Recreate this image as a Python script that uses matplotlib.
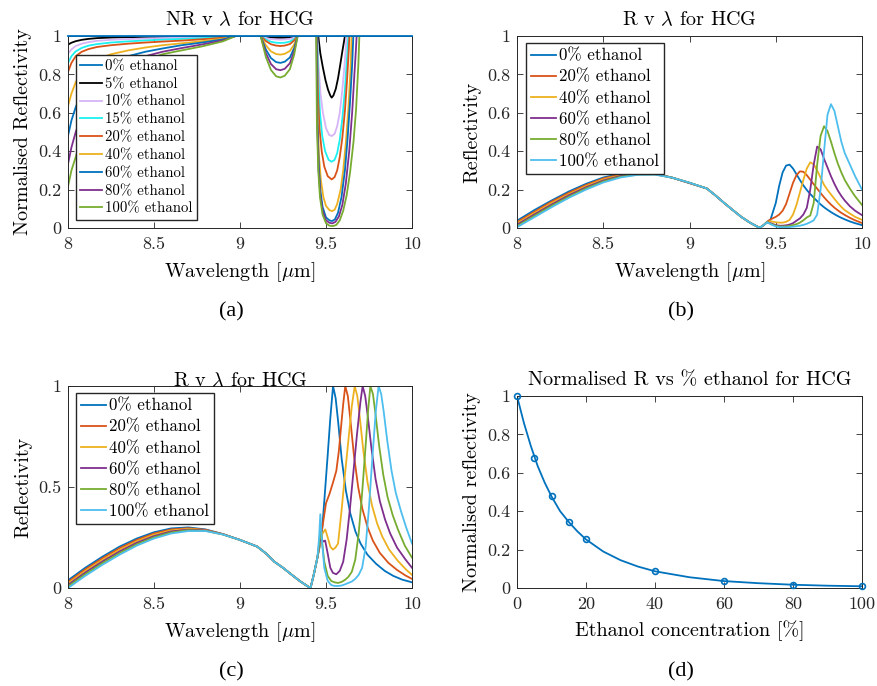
import matplotlib
matplotlib.use('Agg')
import matplotlib.pyplot as plt

plt.rcParams['font.family'] = 'cmr10'
plt.rcParams['mathtext.fontset'] = 'cm'
plt.rcParams['axes.formatter.use_mathtext'] = True
plt.rcParams['axes.unicode_minus'] = False

# matlab default colours
BLUE = '#0072BD'
RED = '#D95319'
YELLOW = '#EDB120'
PURPLE = '#7E2F8E'
GREEN = '#77AC30'
CYAN = '#4DBEEE'

wl_ticks = [8, 8.5, 9, 9.5, 10]
wl_ticklabels = ['8', '8.5', '9', '9.5', '10']
r_ticks = [0, 0.2, 0.4, 0.6, 0.8, 1]
r_ticklabels = ['0', '0.2', '0.4', '0.6', '0.8', '1']

# ---------------- (a) normalised reflectivity ----------------
a_labels = ['0% ethanol', '5% ethanol', '10% ethanol', '15% ethanol', '20% ethanol',
            '40% ethanol', '60% ethanol', '80% ethanol', '100% ethanol']
a_colors = [BLUE, 'k', '#D6B4F7', '#1CF0F0', RED, YELLOW, BLUE, PURPLE, GREEN]

# 0% is the reference, flat at 1
a_ref_x = [8, 10]
a_ref_y = [1, 1]

# rising part 8-9 um (5% ... 100%)
a_left_x = [8.0, 8.02, 8.045, 8.08, 8.12, 8.17, 8.25, 8.35, 8.45, 8.55, 8.66, 8.78, 8.9, 8.975, 9.0]
a_left_y = [
    [0.955, 0.965, 0.973, 0.980, 0.985, 0.989, 0.992, 0.994, 0.995, 0.996, 0.997, 0.998, 0.999, 1.0, 1.01],
    [0.908, 0.930, 0.948, 0.960, 0.968, 0.975, 0.980, 0.984, 0.987, 0.989, 0.991, 0.993, 0.996, 1.0, 1.01],
    [0.860, 0.895, 0.920, 0.938, 0.950, 0.958, 0.966, 0.972, 0.977, 0.981, 0.985, 0.989, 0.994, 1.0, 1.01],
    [0.813, 0.860, 0.895, 0.918, 0.932, 0.943, 0.952, 0.960, 0.966, 0.971, 0.976, 0.983, 0.991, 1.0, 1.01],
    [0.635, 0.700, 0.760, 0.810, 0.850, 0.880, 0.905, 0.925, 0.940, 0.952, 0.962, 0.973, 0.986, 1.0, 1.01],
    [0.480, 0.560, 0.630, 0.700, 0.760, 0.810, 0.860, 0.895, 0.918, 0.935, 0.952, 0.966, 0.982, 1.0, 1.01],
    [0.334, 0.420, 0.500, 0.590, 0.670, 0.740, 0.810, 0.860, 0.895, 0.918, 0.937, 0.956, 0.977, 1.0, 1.01],
    [0.216, 0.300, 0.370, 0.480, 0.580, 0.670, 0.760, 0.830, 0.875, 0.905, 0.925, 0.946, 0.972, 1.0, 1.01],
]

# small dip near 9.23 um
a_dip1_x = [9.10, 9.12, 9.15, 9.18, 9.21, 9.235, 9.26, 9.29, 9.315, 9.335, 9.35]
a_dip1_y = [
    [1.03, 1.0, 0.996, 0.993, 0.991, 0.991, 0.991, 0.993, 0.996, 1.0, 1.03],
    [1.03, 1.0, 0.990, 0.984, 0.982, 0.981, 0.982, 0.985, 0.991, 1.0, 1.03],
    [1.03, 1.0, 0.982, 0.970, 0.965, 0.964, 0.965, 0.971, 0.984, 1.0, 1.03],
    [1.03, 1.0, 0.974, 0.957, 0.950, 0.948, 0.950, 0.958, 0.977, 1.0, 1.03],
    [1.03, 1.0, 0.952, 0.920, 0.906, 0.903, 0.907, 0.922, 0.956, 1.0, 1.03],
    [1.03, 1.0, 0.930, 0.885, 0.864, 0.860, 0.866, 0.888, 0.937, 1.0, 1.03],
    [1.03, 1.0, 0.911, 0.854, 0.827, 0.822, 0.829, 0.858, 0.920, 1.0, 1.03],
    [1.03, 1.0, 0.892, 0.823, 0.790, 0.784, 0.793, 0.827, 0.903, 1.0, 1.03],
]

# main dip near 9.53 um
a_dip2_x = [
    [9.452, 9.455, 9.467, 9.481, 9.497, 9.512, 9.525, 9.533, 9.543, 9.557, 9.57, 9.581, 9.595, 9.61, 9.614],
    [9.446, 9.449, 9.457, 9.468, 9.482, 9.5, 9.518, 9.533, 9.55, 9.565, 9.58, 9.595, 9.608, 9.616, 9.62, 9.626],
    [9.445, 9.448, 9.455, 9.465, 9.478, 9.495, 9.515, 9.533, 9.55, 9.565, 9.58, 9.595, 9.61, 9.622, 9.63, 9.636],
    [9.444, 9.447, 9.453, 9.462, 9.475, 9.49, 9.51, 9.533, 9.55, 9.565, 9.58, 9.595, 9.61, 9.623, 9.632, 9.636, 9.642],
    [9.443, 9.446, 9.451, 9.459, 9.47, 9.485, 9.5, 9.52, 9.535, 9.55, 9.565, 9.585, 9.6, 9.615, 9.63, 9.642, 9.649, 9.655],
    [9.443, 9.446, 9.45, 9.458, 9.468, 9.48, 9.5, 9.52, 9.535, 9.552, 9.57, 9.59, 9.61, 9.625, 9.64, 9.652, 9.659, 9.665],
    [9.442, 9.445, 9.449, 9.457, 9.467, 9.48, 9.5, 9.52, 9.537, 9.555, 9.575, 9.595, 9.615, 9.635, 9.652, 9.665, 9.674, 9.678, 9.685],
    [9.44, 9.443, 9.447, 9.455, 9.465, 9.48, 9.5, 9.52, 9.54, 9.56, 9.58, 9.6, 9.62, 9.64, 9.66, 9.675, 9.688, 9.694, 9.7],
]
a_dip2_y = [
    [1.05, 1.0, 0.91, 0.84, 0.77, 0.72, 0.69, 0.679, 0.69, 0.725, 0.78, 0.84, 0.92, 1.0, 1.05],
    [1.05, 1.0, 0.84, 0.7, 0.6, 0.52, 0.485, 0.479, 0.49, 0.53, 0.6, 0.72, 0.85, 0.95, 1.0, 1.05],
    [1.05, 1.0, 0.78, 0.6, 0.48, 0.4, 0.355, 0.345, 0.355, 0.39, 0.46, 0.57, 0.72, 0.88, 1.0, 1.05],
    [1.05, 1.0, 0.7, 0.52, 0.4, 0.32, 0.27, 0.253, 0.265, 0.3, 0.37, 0.47, 0.61, 0.78, 0.92, 1.0, 1.05],
    [1.05, 1.0, 0.6, 0.38, 0.25, 0.16, 0.115, 0.093, 0.088, 0.095, 0.125, 0.2, 0.3, 0.44, 0.62, 0.82, 1.0, 1.05],
    [1.05, 1.0, 0.55, 0.32, 0.19, 0.11, 0.055, 0.04, 0.036, 0.045, 0.08, 0.16, 0.3, 0.46, 0.66, 0.85, 1.0, 1.05],
    [1.05, 1.0, 0.55, 0.3, 0.17, 0.09, 0.04, 0.027, 0.024, 0.032, 0.06, 0.12, 0.23, 0.4, 0.6, 0.8, 0.93, 1.0, 1.05],
    [1.05, 1.0, 0.55, 0.3, 0.16, 0.07, 0.025, 0.012, 0.01, 0.016, 0.04, 0.09, 0.17, 0.29, 0.45, 0.62, 0.85, 1.0, 1.05],
]

# ---------------- (b) reflectivity ----------------
bc_labels = ['0% ethanol', '20% ethanol', '40% ethanol', '60% ethanol', '80% ethanol', '100% ethanol']
bc_colors = [BLUE, RED, YELLOW, PURPLE, GREEN, CYAN]

b_hump_x = [8.0, 8.1, 8.2, 8.3, 8.4, 8.5, 8.6, 8.7, 8.8, 8.9, 9.0]
b_hump_y = [
    [0.038, 0.093, 0.143, 0.190, 0.230, 0.263, 0.283, 0.289, 0.284, 0.262, 0.234],
    [0.031, 0.084, 0.137, 0.183, 0.224, 0.258, 0.279, 0.287, 0.283, 0.262, 0.234],
    [0.024, 0.077, 0.130, 0.176, 0.218, 0.253, 0.275, 0.284, 0.282, 0.262, 0.235],
    [0.017, 0.070, 0.122, 0.170, 0.212, 0.247, 0.271, 0.282, 0.281, 0.262, 0.235],
    [0.010, 0.063, 0.115, 0.163, 0.206, 0.242, 0.267, 0.279, 0.279, 0.262, 0.236],
    [0.004, 0.056, 0.108, 0.157, 0.200, 0.237, 0.263, 0.277, 0.278, 0.262, 0.236],
]
b_fall_x = [9.1, 9.15, 9.2, 9.25, 9.3, 9.35, 9.4, 9.41]
b_fall_y = [0.206, 0.170, 0.131, 0.094, 0.058, 0.028, 0.004, 0.003]
b_res_x = [9.43, 9.45, 9.47, 9.5, 9.52, 9.54, 9.56, 9.58, 9.6, 9.62, 9.64, 9.66, 9.68, 9.7,
           9.72, 9.74, 9.76, 9.78, 9.8, 9.82, 9.84, 9.86, 9.88, 9.9, 9.93, 9.96, 10.0]
b_res_y = [
    [0.015, 0.03, 0.045, 0.13, 0.22, 0.29, 0.325, 0.33, 0.31, 0.28, 0.25, 0.222, 0.198, 0.177,
     0.158, 0.14, 0.123, 0.108, 0.095, 0.083, 0.072, 0.062, 0.053, 0.045, 0.034, 0.025, 0.015],
    [0.015, 0.033, 0.045, 0.058, 0.07, 0.09, 0.125, 0.18, 0.235, 0.275, 0.295, 0.293, 0.275, 0.252,
     0.228, 0.205, 0.182, 0.16, 0.14, 0.122, 0.106, 0.092, 0.079, 0.068, 0.053, 0.04, 0.026],
    [0.015, 0.032, 0.035, 0.03, 0.028, 0.028, 0.032, 0.042, 0.07, 0.12, 0.185, 0.25, 0.31, 0.342,
     0.332, 0.3, 0.262, 0.225, 0.198, 0.175, 0.152, 0.13, 0.11, 0.093, 0.075, 0.058, 0.042],
    [0.015, 0.03, 0.025, 0.015, 0.012, 0.012, 0.014, 0.018, 0.025, 0.038, 0.05, 0.07, 0.105, 0.2,
     0.33, 0.424, 0.41, 0.36, 0.315, 0.27, 0.23, 0.195, 0.167, 0.143, 0.113, 0.09, 0.067],
    [0.015, 0.03, 0.022, 0.012, 0.008, 0.008, 0.009, 0.011, 0.015, 0.02, 0.028, 0.04, 0.055, 0.065,
     0.13, 0.33, 0.48, 0.53, 0.505, 0.45, 0.39, 0.335, 0.29, 0.25, 0.205, 0.165, 0.12],
    [0.015, 0.03, 0.02, 0.008, 0.005, 0.004, 0.004, 0.005, 0.007, 0.009, 0.012, 0.016, 0.022, 0.03,
     0.04, 0.07, 0.2, 0.4, 0.59, 0.645, 0.61, 0.53, 0.45, 0.39, 0.33, 0.27, 0.2],
]

# ---------------- (c) reflectivity, second design ----------------
c_hump_x = [8.0, 8.1, 8.2, 8.3, 8.4, 8.5, 8.6, 8.7, 8.8, 8.9, 9.0]
c_hump_y = [
    [0.038, 0.100, 0.155, 0.205, 0.245, 0.276, 0.295, 0.300, 0.290, 0.267, 0.238],
    [0.030, 0.092, 0.147, 0.197, 0.238, 0.270, 0.290, 0.296, 0.288, 0.267, 0.238],
    [0.023, 0.084, 0.139, 0.189, 0.231, 0.264, 0.285, 0.293, 0.286, 0.266, 0.238],
    [0.015, 0.076, 0.131, 0.181, 0.224, 0.257, 0.280, 0.289, 0.285, 0.266, 0.238],
    [0.008, 0.068, 0.123, 0.173, 0.217, 0.251, 0.275, 0.286, 0.283, 0.265, 0.238],
    [0.000, 0.060, 0.115, 0.165, 0.210, 0.245, 0.270, 0.282, 0.282, 0.265, 0.238],
]
c_fall_x = [9.1, 9.15, 9.2, 9.25, 9.3, 9.35, 9.4, 9.41]
c_fall_y = [0.205, 0.172, 0.130, 0.100, 0.066, 0.033, 0.005, 0.0]
c_res_x = [
    [9.43, 9.45, 9.474, 9.49, 9.51, 9.525, 9.535, 9.541, 9.556, 9.571, 9.591, 9.616, 9.641, 9.671,
     9.701, 9.741, 9.791, 9.841, 9.891, 9.941, 10.0],
    [9.43, 9.45, 9.47, 9.5, 9.52, 9.54, 9.56, 9.575, 9.59, 9.6, 9.612, 9.627, 9.642, 9.662, 9.687,
     9.712, 9.742, 9.772, 9.812, 9.862, 9.912, 9.962, 10.0],
    [9.43, 9.45, 9.465, 9.48, 9.496, 9.51, 9.525, 9.54, 9.555, 9.57, 9.59, 9.61, 9.63, 9.65, 9.667,
     9.682, 9.697, 9.717, 9.742, 9.767, 9.797, 9.827, 9.867, 9.917, 9.967, 10.0],
    [9.43, 9.45, 9.465, 9.475, 9.485, 9.495, 9.51, 9.525, 9.54, 9.56, 9.58, 9.6, 9.62, 9.64, 9.66,
     9.68, 9.7, 9.713, 9.728, 9.743, 9.763, 9.788, 9.813, 9.843, 9.873, 9.913, 9.963, 10.0],
    [9.43, 9.45, 9.46, 9.468, 9.478, 9.49, 9.51, 9.53, 9.55, 9.57, 9.59, 9.61, 9.63, 9.65, 9.67,
     9.69, 9.71, 9.73, 9.745, 9.758, 9.773, 9.788, 9.808, 9.833, 9.858, 9.888, 9.918, 9.958, 10.0],
    [9.43, 9.45, 9.46, 9.467, 9.475, 9.49, 9.51, 9.53, 9.55, 9.57, 9.59, 9.61, 9.63, 9.65, 9.67,
     9.69, 9.71, 9.73, 9.75, 9.77, 9.79, 9.806, 9.821, 9.836, 9.856, 9.881, 9.906, 9.936, 9.966, 10.0],
]
c_res_y = [
    [0.07, 0.15, 0.25, 0.43, 0.66, 0.84, 0.94, 1.0, 0.94, 0.82, 0.64, 0.48, 0.37, 0.28,
     0.22, 0.165, 0.12, 0.085, 0.06, 0.042, 0.028],
    [0.07, 0.15, 0.25, 0.42, 0.465, 0.52, 0.58, 0.68, 0.82, 0.91, 1.0, 0.95, 0.83, 0.66, 0.5,
     0.39, 0.3, 0.235, 0.175, 0.125, 0.09, 0.062, 0.045],
    [0.07, 0.15, 0.22, 0.27, 0.29, 0.25, 0.205, 0.19, 0.2, 0.22, 0.38, 0.56, 0.73, 0.9, 1.0,
     0.95, 0.84, 0.68, 0.52, 0.41, 0.32, 0.255, 0.19, 0.135, 0.09, 0.065],
    [0.07, 0.15, 0.235, 0.24, 0.23, 0.235, 0.17, 0.1, 0.075, 0.068, 0.085, 0.13, 0.24, 0.4, 0.58,
     0.76, 0.92, 1.0, 0.95, 0.85, 0.7, 0.54, 0.43, 0.34, 0.27, 0.2, 0.14, 0.1],
    [0.07, 0.15, 0.22, 0.3, 0.22, 0.13, 0.06, 0.035, 0.028, 0.025, 0.03, 0.04, 0.055, 0.08, 0.14,
     0.27, 0.47, 0.7, 0.88, 1.0, 0.96, 0.86, 0.71, 0.56, 0.45, 0.36, 0.29, 0.21, 0.15],
    [0.07, 0.15, 0.25, 0.365, 0.25, 0.1, 0.035, 0.015, 0.01, 0.01, 0.012, 0.018, 0.025, 0.032, 0.045,
     0.065, 0.1, 0.2, 0.4, 0.65, 0.88, 1.0, 0.96, 0.87, 0.73, 0.58, 0.47, 0.38, 0.3, 0.22],
]

# ---------------- (d) normalised R vs concentration ----------------
d_conc = [0, 5, 10, 15, 20, 40, 60, 80, 100]
d_norm = [1.0, 0.677, 0.477, 0.344, 0.253, 0.087, 0.036, 0.017, 0.009]
d_fit_conc = [0, 2, 4, 6, 8, 10, 12.5, 15, 17.5, 20, 25, 30, 35, 40, 50, 60, 70, 80, 90, 100]
d_fit_norm = [1.0, 0.86, 0.74, 0.635, 0.55, 0.477, 0.40, 0.344, 0.295, 0.253, 0.19, 0.145,
              0.112, 0.087, 0.056, 0.036, 0.025, 0.017, 0.012, 0.009]
conc_ticks = [0, 20, 40, 60, 80, 100]


W, H = 877, 686
fig = plt.figure(figsize=(W / 100, H / 100), dpi=100)


def px_axes(l, t, r, b):
    return fig.add_axes([l / W, 1 - b / H, (r - l) / W, (b - t) / H])


def matlab_style(ax):
    ax.tick_params(direction='in', top=True, right=True, length=4, width=0.6,
                   colors='#262626', labelsize=13, pad=6.5)
    ax.tick_params(axis='y', pad=5)
    for s in ax.spines.values():
        s.set_linewidth(0.7)
        s.set_color('#262626')


def legend(ax, x, y, size, spacing):
    ax.legend(loc='upper left', bbox_to_anchor=(x, y), borderaxespad=0, fancybox=False,
              edgecolor='#262626', framealpha=1, fontsize=size, handlelength=1.45,
              handletextpad=0.2, borderpad=0.3, labelspacing=spacing)


LW = 1.3

# (a)
ax = px_axes(68, 36, 412, 228)
ax.plot(a_ref_x, a_ref_y, color=a_colors[0], lw=LW, label=a_labels[0], clip_on=False, zorder=3)
for i in range(8):
    xs = a_left_x + a_dip1_x + a_dip2_x[i]
    ys = a_left_y[i] + a_dip1_y[i] + a_dip2_y[i]
    ax.plot(xs, ys, color=a_colors[i + 1], lw=LW, label=a_labels[i + 1])
ax.set_xlim(8, 10)
ax.set_ylim(0, 1)
ax.set_xticks(wl_ticks, wl_ticklabels)
ax.set_yticks(r_ticks, r_ticklabels)
matlab_style(ax)
ax.set_title(r'NR v $\lambda$ for HCG', fontsize=14.5, pad=8)
ax.set_xlabel(r'Wavelength [$\mu$m]', fontsize=14.5, labelpad=6)
ax.set_ylabel('Normalised Reflectivity', fontsize=14.5, labelpad=4)
legend(ax, 0.023, 0.901, 10.7, 0.275)

# (b)
ax = px_axes(517, 36, 862, 228)
for i in range(6):
    xs = b_hump_x + b_fall_x + b_res_x
    ys = b_hump_y[i] + b_fall_y + b_res_y[i]
    ax.plot(xs, ys, color=bc_colors[i], lw=LW, label=bc_labels[i])
ax.set_xlim(8, 10)
ax.set_ylim(0, 1)
ax.set_xticks(wl_ticks, wl_ticklabels)
ax.set_yticks(r_ticks, r_ticklabels)
matlab_style(ax)
ax.set_title(r'R v $\lambda$ for HCG', fontsize=14.5, pad=8)
ax.set_xlabel(r'Wavelength [$\mu$m]', fontsize=14.5, labelpad=6)
ax.set_ylabel('Reflectivity', fontsize=14.5, labelpad=4)
legend(ax, 0.026, 0.962, 12.2, 0.34)

# (c)
ax = px_axes(68, 386, 412, 588)
for i in range(6):
    xs = c_hump_x + c_fall_x + c_res_x[i]
    ys = c_hump_y[i] + c_fall_y + c_res_y[i]
    ax.plot(xs, ys, color=bc_colors[i], lw=LW, label=bc_labels[i])
ax.set_xlim(8, 10)
ax.set_ylim(0, 1)
ax.set_xticks(wl_ticks, wl_ticklabels)
ax.set_yticks([0, 0.5, 1], ['0', '0.5', '1'])
matlab_style(ax)
ax.set_title(r'R v $\lambda$ for HCG', fontsize=14.5, pad=0)
ax.set_xlabel(r'Wavelength [$\mu$m]', fontsize=14.5, labelpad=6)
ax.set_ylabel('Reflectivity', fontsize=14.5, labelpad=4)
legend(ax, 0.023, 0.964, 12.2, 0.34)

# (d)
ax = px_axes(517, 396, 862, 588)
ax.plot(d_fit_conc, d_fit_norm, color=BLUE, lw=LW)
ax.plot(d_conc, d_norm, 'o', color=BLUE, mfc='none', ms=4.2, mew=1.2, clip_on=False, zorder=3)
ax.set_xlim(0, 100)
ax.set_ylim(0, 1)
ax.set_xticks(conc_ticks, [str(c) for c in conc_ticks])
ax.set_yticks(r_ticks, r_ticklabels)
matlab_style(ax)
ax.set_title('Normalised R vs % ethanol for HCG', fontsize=14.5, pad=8)
ax.set_xlabel('Ethanol concentration [%]', fontsize=14.5, labelpad=6)
ax.set_ylabel('Normalised reflectivity', fontsize=14.5, labelpad=4)

# sub-figure letters
for lab, x, y in [('(a)', 231, 312), ('(b)', 681, 312), ('(c)', 231, 672), ('(d)', 681, 672)]:
    fig.text(x / W, 1 - y / H, lab, ha='center', va='center', fontsize=16, family='Liberation Serif')

fig.savefig('out.png', dpi=100)
